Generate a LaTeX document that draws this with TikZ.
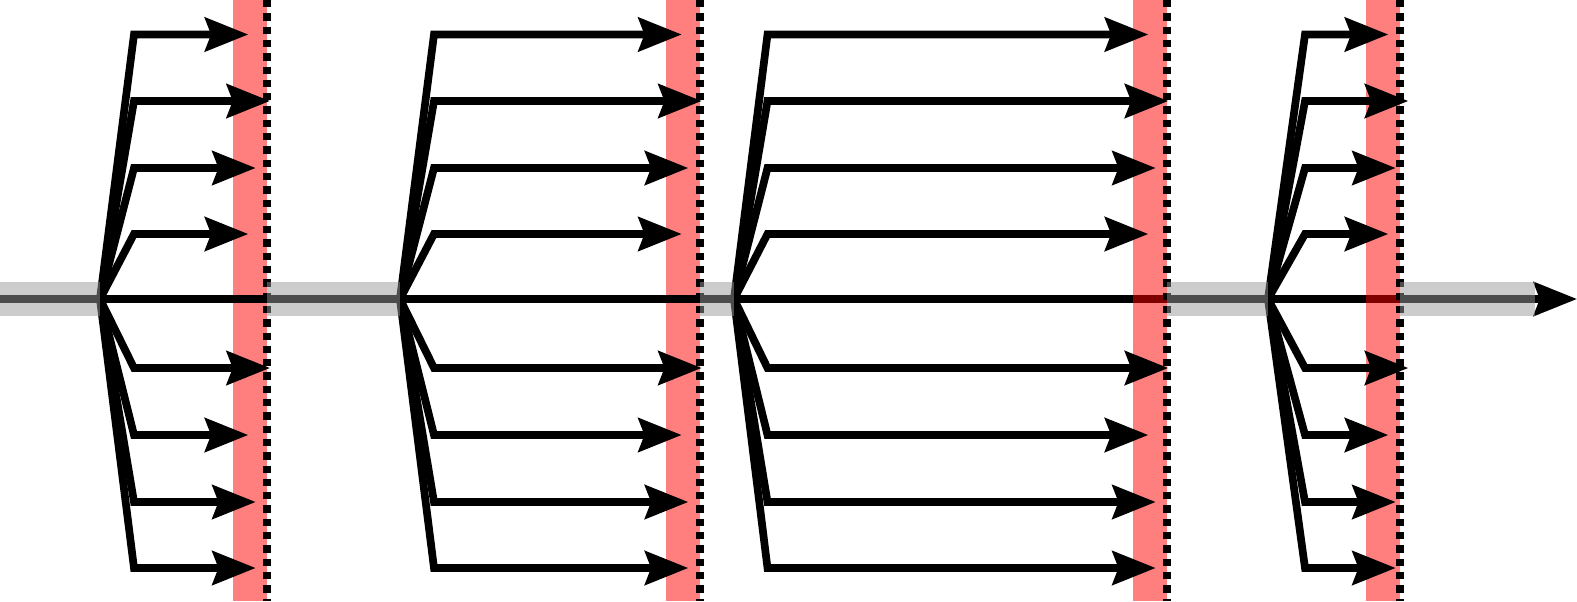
\documentclass[tikz,border=0pt]{standalone}
\usetikzlibrary{arrows.meta}

\begin{document}
\begin{tikzpicture}[
    x=0.5pt, y=-0.5pt,
    >={Stealth[length=21.6pt, width=16.8pt, inset=3pt]},
    ray/.style={->, line width=3.85pt},
    axis_line/.style={->, line width=3.85pt},
    grey_band/.style={draw=black!40, draw opacity=0.5, line width=16.8pt},
    red_band/.style={fill=red, fill opacity=0.5},
    wall_line/.style={line width=4pt, dash pattern=on 3.65pt off 3pt}
]

% Frame
\useasboundingbox (0,0) rectangle (1577,601);

% Main axis
\draw[axis_line] (0,299) -- (1577,299);

% Fans: branch point, corner offset, tip positions, band edges
\foreach \i/\vx/\dx/\tipA/\tipB/\tipC/\rl/\wx in {
    1/100/34/248.3/255.7/270/233/266.7,
    2/400/34/681.7/688.3/701.7/666/699.7,
    3/734/33.5/1148.3/1155.7/1168.3/1133.3/1166.7,
    4/1268/37/1388.3/1395.7/1408.3/1366/1400}{
    \coordinate (v\i) at (\vx,299);
    \coordinate (w\i) at (\wx,299);
    \fill[red_band] (\rl,0) rectangle (\wx,601);
    \ifnum\i<3 \draw[line width=3.85pt] (v\i) -- (w\i); \fi
    \foreach \y/\tp in {34.5/\tipA, 101/\tipC, 168/\tipB, 234/\tipA,
                        368/\tipC, 435/\tipA, 502/\tipB, 568/\tipB}
        \draw[ray] (v\i) -- (\vx+\dx,\y) -- (\tp,\y);
    \draw[wall_line] (\wx,0) -- (\wx,601);
}

% Grey band between the fans
\draw[grey_band] (0,299) -- (v1) (w1) -- (v2) (w2) -- (v3) (w3) -- (v4) (w4) -- (1535,299);

\end{tikzpicture}
\end{document}
